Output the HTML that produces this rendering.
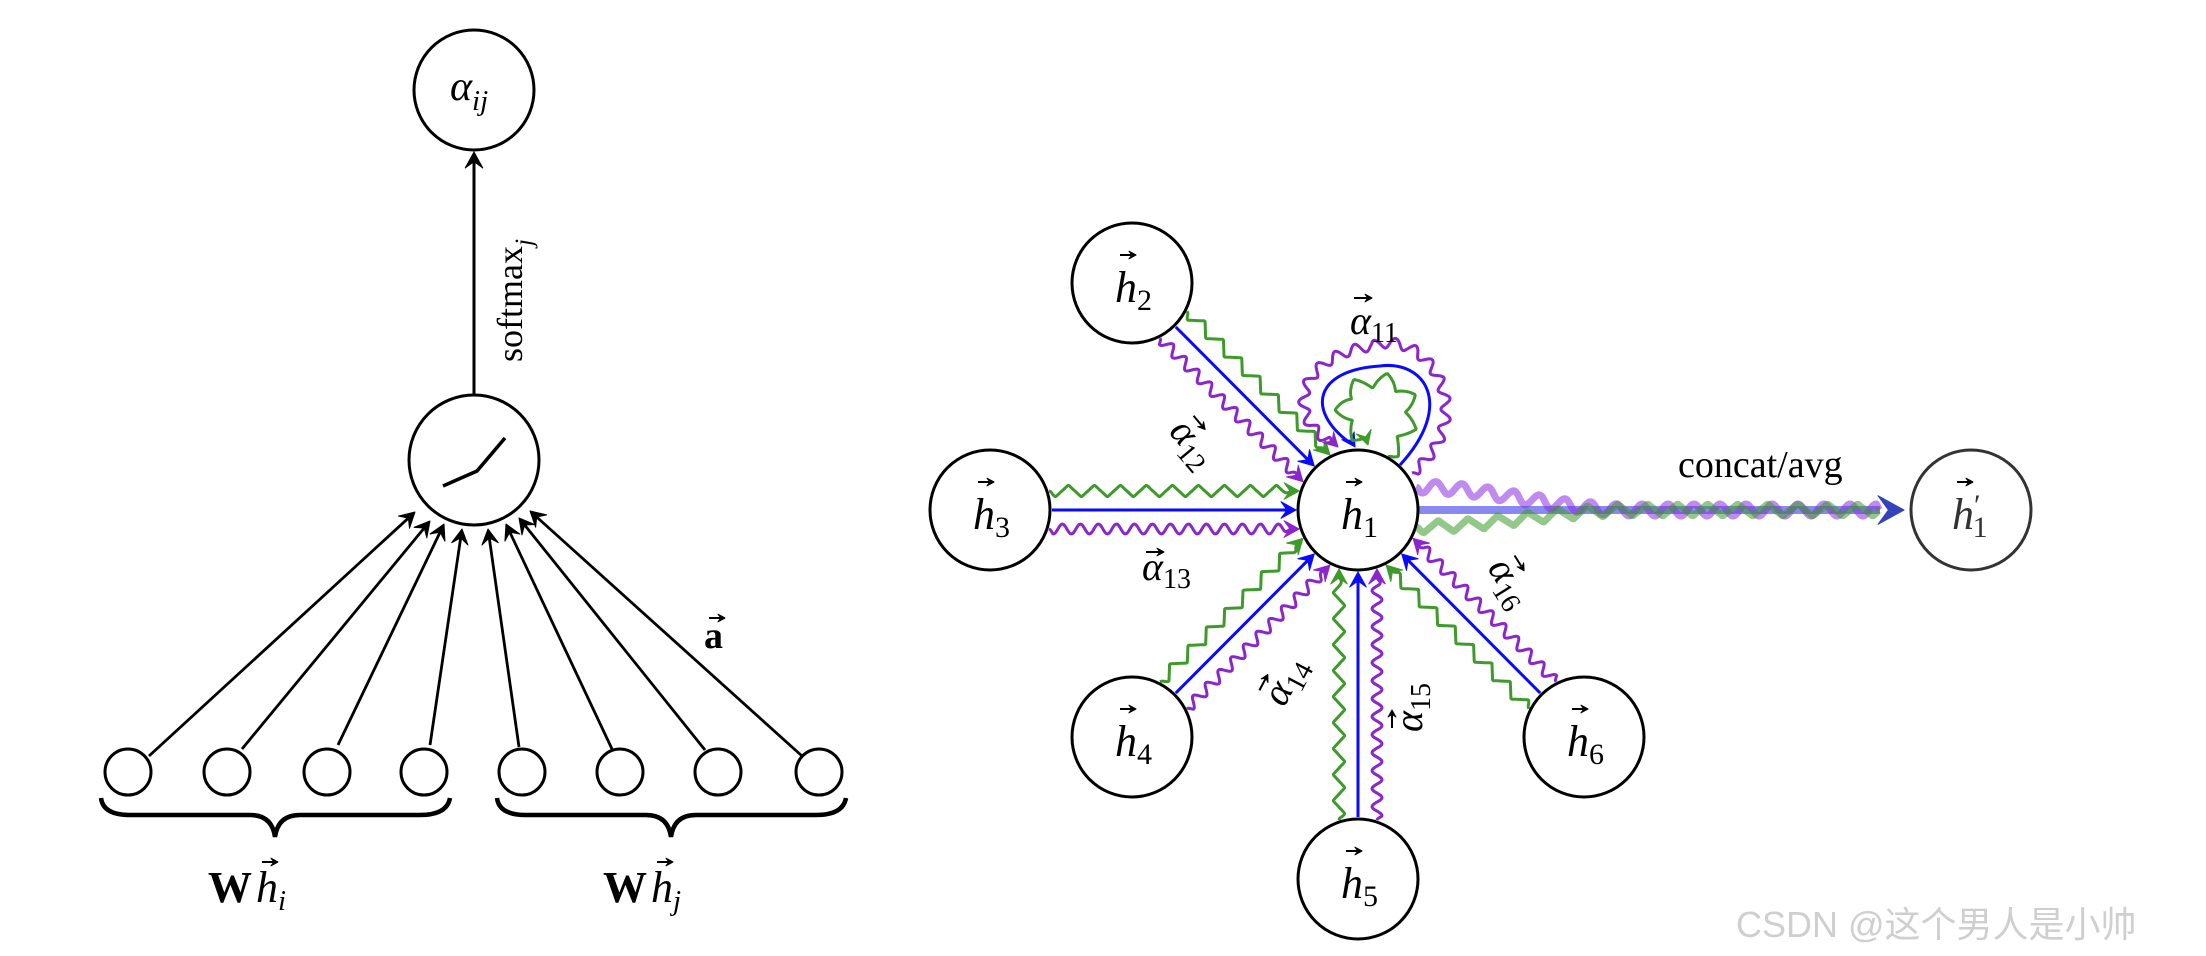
<!DOCTYPE html>
<html><head><meta charset="utf-8">
<style>
html,body{margin:0;padding:0;background:#fff;}
svg{display:block;}
text{font-family:"Liberation Serif",serif;fill:#000;}
.it{font-style:italic;}
</style></head>
<body>
<svg id="s" width="2206" height="956" viewBox="0 0 2206 956" xmlns="http://www.w3.org/2000/svg">
<g id="g"></g>
<!-- LEFT DIAGRAM -->
<g fill="none" stroke="#000" stroke-width="3">
<circle cx="474" cy="90" r="60"/>
<circle cx="474" cy="460" r="65"/>
<polyline points="443,486 477,471 505,438" stroke-width="3.5"/>
<circle cx="128" cy="772" r="23"/><circle cx="227" cy="772" r="23"/>
<circle cx="327" cy="772" r="23"/><circle cx="424" cy="772" r="23"/>
<circle cx="522" cy="772" r="23"/><circle cx="620" cy="772" r="23"/>
<circle cx="718" cy="772" r="23"/><circle cx="819" cy="772" r="23"/>
<path d="M101,798 Q103,815 130,815 L250,815 Q272,815 275,837 Q278,815 300,815 L420,815 Q447,815 450,798" stroke-width="4.5"/>
<path d="M497,798 Q499,815 526,815 L646,815 Q668,815 671,837 Q674,815 696,815 L816,815 Q843,815 846,798" stroke-width="4.5"/>
</g>
<text x="450" y="100" font-size="42" class="it">α<tspan font-size="29" dy="10">ij</tspan></text>
<text transform="translate(522,362) rotate(-90)" font-size="36">softmax<tspan font-size="25" dy="10" class="it">j</tspan></text>
<text x="704" y="648" font-size="38" font-weight="bold">a</text>
<text x="208" y="902" font-size="44" font-weight="bold">W</text>
<text x="256" y="902" font-size="44" class="it">h<tspan font-size="29" dy="8">i</tspan></text>
<text x="603" y="902" font-size="44" font-weight="bold">W</text>
<text x="651" y="902" font-size="44" class="it">h<tspan font-size="29" dy="8">j</tspan></text>

<!-- RIGHT DIAGRAM nodes -->
<g fill="#fff" stroke="#000" stroke-width="3">
<circle cx="1358" cy="510" r="60"/>
<circle cx="1132" cy="283" r="60"/>
<circle cx="990" cy="510" r="60"/>
<circle cx="1132" cy="737" r="60"/>
<circle cx="1358" cy="879" r="60"/>
<circle cx="1584" cy="737" r="60"/>
<circle cx="1971" cy="510" r="60" stroke="#333"/>
</g>
<g class="it" font-size="44">
<text x="1341" y="529">h<tspan font-size="30" dy="8" font-style="normal">1</tspan></text>
<text x="1115" y="302">h<tspan font-size="30" dy="8" font-style="normal">2</tspan></text>
<text x="973" y="529">h<tspan font-size="30" dy="8" font-style="normal">3</tspan></text>
<text x="1115" y="756">h<tspan font-size="30" dy="8" font-style="normal">4</tspan></text>
<text x="1341" y="898">h<tspan font-size="30" dy="8" font-style="normal">5</tspan></text>
<text x="1567" y="756">h<tspan font-size="30" dy="8" font-style="normal">6</tspan></text>
<text x="1952" y="529" style="fill:#333">h<tspan font-size="30" dy="-14" font-style="normal">′</tspan><tspan font-size="30" dy="22" dx="-8" font-style="normal">1</tspan></text>
</g>
<g class="it" font-size="40">
<text x="1350" y="334">α<tspan font-size="28" dy="8" font-style="normal">11</tspan></text>
<text transform="translate(1168,432) rotate(50)">α<tspan font-size="28" dy="8" font-style="normal">12</tspan></text>
<text x="1142" y="580">α<tspan font-size="28" dy="8" font-style="normal">13</tspan></text>
<text transform="translate(1284,708) rotate(-62)">α<tspan font-size="28" dy="8" font-style="normal">14</tspan></text>
<text transform="translate(1422,732) rotate(-90)">α<tspan font-size="28" dy="8" font-style="normal">15</tspan></text>
<text transform="translate(1487,568) rotate(58)">α<tspan font-size="28" dy="8" font-style="normal">16</tspan></text>
</g>
<text x="1678" y="477" font-size="38">concat/avg</text>
<text x="1736" y="937" font-size="36" style="fill:#cfcfcf;font-family:'Liberation Sans','Noto Sans CJK SC',sans-serif">CSDN @这个男人是小帅</text>
<g id="topg"></g>
</svg>
<script>
var g=document.getElementById('g');
var NS='http://www.w3.org/2000/svg';
function el(t,a,par){var e=document.createElementNS(NS,t);for(var k in a)e.setAttribute(k,a[k]);(par||g).appendChild(e);return e;}
function head(x,y,ux,uy,col,sz,par){sz=sz||14;var px=-uy,py=ux;
 var b1=[x-ux*sz+px*sz*0.55,y-uy*sz+py*sz*0.55],b2=[x-ux*sz-px*sz*0.55,y-uy*sz-py*sz*0.55],m=[x-ux*sz*0.6,y-uy*sz*0.6];
 el('path',{d:'M'+x+','+y+' L'+b1+' L'+m+' L'+b2+' Z',fill:col,stroke:col,'stroke-width':1,'stroke-linejoin':'round'},par);}
function line(x1,y1,x2,y2,col,w,op,par){el('line',{x1:x1,y1:y1,x2:x2,y2:y2,stroke:col,'stroke-width':w,'stroke-opacity':op||1},par);}
function resample(pts){var acc=[0],L=0;for(var i=1;i<pts.length;i++){L+=Math.hypot(pts[i][0]-pts[i-1][0],pts[i][1]-pts[i-1][1]);acc.push(L);}
 var res=[],j=0;for(var s=0;s<=L;s+=1){while(j<acc.length-2&&acc[j+1]<s)j++;var t=(s-acc[j])/((acc[j+1]-acc[j])||1);res.push([pts[j][0]+(pts[j+1][0]-pts[j][0])*t,pts[j][1]+(pts[j+1][1]-pts[j][1])*t]);}
 return res;}
function wavy(pts,type,amp,per,col,w,op,endTaper){var r=resample(pts);var d='';var n=r.length;endTaper=endTaper||8;
 for(var i=0;i<n;i++){var a=r[Math.max(0,i-1)],b=r[Math.min(n-1,i+1)];var dx=b[0]-a[0],dy=b[1]-a[1],l=Math.hypot(dx,dy)||1;var nx=-dy/l,ny=dx/l;
  var ph=i/per;var f;if(type=='z'){var q=ph-Math.floor(ph);f=q<0.25?4*q:(q<0.75?2-4*q:4*q-4);}else f=Math.sin(2*Math.PI*ph);
  var tp=Math.min(1,(n-1-i)/endTaper, i/4);var o=amp*f*tp;d+=(i?'L':'M')+(r[i][0]+nx*o).toFixed(1)+','+(r[i][1]+ny*o).toFixed(1);}
 el('path',{d:d,fill:'none',stroke:col,'stroke-width':w,'stroke-opacity':op||1,'stroke-linejoin':'round'});}
function bez(p0,p1,p2,p3,n){n=n||60;var o=[];for(var i=0;i<=n;i++){var t=i/n,m=1-t;o.push([m*m*m*p0[0]+3*m*m*t*p1[0]+3*m*t*t*p2[0]+t*t*t*p3[0],m*m*m*p0[1]+3*m*m*t*p1[1]+3*m*t*t*p2[1]+t*t*t*p3[1]]);}return o;}
var BL='#0a0aff',GR='#3f9a2c',PU='#8b25cc';
try{
var starts=[[149,756],[242,749],[338,745],[430,745],[519,747],[612,749],[705,750],[802,756]];
var tips=[[415,512],[430,521],[444,524],[462,529],[488,529],[506,524],[519,518],[530,511]];
for(var i=0;i<8;i++){var s=starts[i],t=tips[i];var dx=t[0]-s[0],dy=t[1]-s[1],l=Math.hypot(dx,dy);
 line(s[0],s[1],t[0]-dx/l*6,t[1]-dy/l*6,'#000',2.8);head(t[0],t[1],dx/l,dy/l,'#000',15);}
line(474,396,474,160,'#000',3);head(474,152,0,-1,'#000',16);
var C=[1358,510],R=60;
var nb=[[1132,283],[990,510],[1132,737],[1358,879],[1584,737]];
nb.forEach(function(N){var dx=C[0]-N[0],dy=C[1]-N[1],L=Math.hypot(dx,dy),ux=dx/L,uy=dy/L,nx=uy,ny=-ux;
 [[0,BL],[19,GR],[-19,PU]].forEach(function(o){var d=o[0],k=Math.sqrt(R*R-d*d);
  var sx=N[0]+nx*d+ux*(k+2),sy=N[1]+ny*d+uy*(k+2),ex=N[0]+nx*d+ux*(L-k-2),ey=N[1]+ny*d+uy*(L-k-2);
  if(d==0){line(sx,sy,ex-ux*8,ey-uy*8,BL,3);}
  else wavy([[sx,sy],[ex-ux*8,ey-uy*8]],d>0?'z':'s',d>0?6:5,d>0?26:18,o[1],3);
  head(ex,ey,ux,uy,o[1],15);});});
}catch(e){}
try{
wavy(bez([1412,473],[1485,415],[1425,325],[1373,346]).concat(bez([1373,346],[1295,355],[1285,420],[1332,442]).slice(1)),'s',5,20,PU,3,1,4);
head(1338,447,0.7,0.7,PU,14);
el('path',{d:'M1400,465 C1455,405 1425,360 1380,366 C1315,370 1305,410 1350,443',fill:'none',stroke:BL,'stroke-width':3});
head(1355,447,0.5,0.8,BL,14);
wavy(bez([1388,457],[1435,415],[1405,372],[1372,381]).concat(bez([1372,381],[1328,388],[1338,430],[1366,440]).slice(1)),'z',7,30,GR,3,1,4);
head(1368,445,0.3,0.95,GR,14);
}catch(e){}
try{
line(1418,510,1880,510,'#3b3be6',8,0.6);
var pp=[],gp=[];for(var x=1416;x<=1880;x+=4){var f=x<1632?(1-(x-1416)/216):0;f=f*f*(3-2*f);pp.push([x,510-23*f]);gp.push([x,510+17*f]);}
wavy(pp,'s',6,26,'#8a2be2',7,0.55,3);
wavy(gp,'z',6,30,'#3a9a2a',7,0.55,3);
head(1904,510,1,0,'#3344bb',26);
}catch(e){}
var topg=document.getElementById('topg');
function varr(x,y,w,par){par=par||topg;line(x,y,x+w-5,y,'#000',2,1,par);head(x+w,y,1,0,'#000',7,par);}
try{
[[1346,482],[1120,255],[978,482],[1120,709],[1346,851],[1572,709]].forEach(function(p){varr(p[0],p[1],16);});
varr(1957,482,16);
varr(262,862,16);varr(657,862,16);varr(709,618,16);
varr(1354,298,18);varr(1146,552,18);
[[1168,432,50],[1284,708,-62],[1422,732,-90],[1487,568,58]].forEach(function(r){
 var gg=el('g',{transform:'translate('+r[0]+','+r[1]+') rotate('+r[2]+')'},topg);varr(4,-30,18,gg);});
}catch(e){}
</script>
</body></html>
